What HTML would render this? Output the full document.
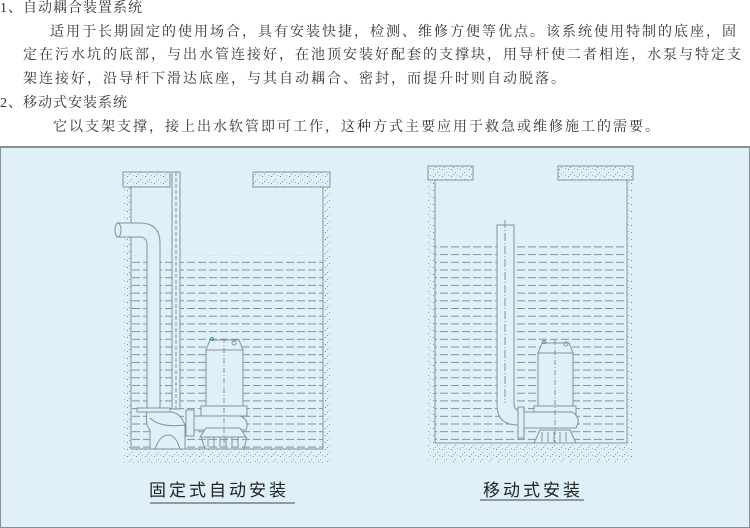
<!DOCTYPE html>
<html><head><meta charset="utf-8"><style>
body{margin:0;width:750px;height:528px;background:#fff;overflow:hidden;position:relative;font-family:"Liberation Serif","Noto Serif CJK SC",serif;color:#333;}
.t{position:absolute;font-size:14px;letter-spacing:2px;white-space:nowrap;line-height:16px;}
</style></head><body>
<div class="t" style="left:0;top:1px;letter-spacing:1px">1、自动耦合装置系统</div>
<div class="t" style="left:50px;top:25px">适用于长期固定的使用场合，具有安装快捷，检测、维修方便等优点。该系统使用特制的底座，固</div>
<div class="t" style="left:23px;top:48px">定在污水坑的底部，与出水管连接好，在池顶安装好配套的支撑块，用导杆使二者相连，水泵与特定支</div>
<div class="t" style="left:23px;top:72px">架连接好，沿导杆下滑达底座，与其自动耦合、密封，而提升时则自动脱落。</div>
<div class="t" style="left:0;top:96px;letter-spacing:1px">2、移动式安装系统</div>
<div class="t" style="left:53px;top:120px">它以支架支撑，接上出水软管即可工作，这种方式主要应用于救急或维修施工的需要。</div>
<svg style="position:absolute;left:0;top:0" width="750" height="528" viewBox="0 0 750 528">
<defs>
<pattern id="d" width="9" height="7" patternUnits="userSpaceOnUse">
<rect x="1" y="1" width="1" height="1" fill="#7d8a92"/><rect x="5" y="4" width="1" height="1" fill="#98a2a8"/><rect x="7" y="0" width="1" height="1" fill="#a8b2b8"/><rect x="3" y="6" width="1" height="1" fill="#8e9aa0"/>
</pattern>
<pattern id="w" width="11" height="7.7" patternUnits="userSpaceOnUse">
<line x1="0" y1="0.5" x2="8" y2="0.5" stroke="#84929b" stroke-width="1"/>
</pattern>
</defs>
<rect x="0.5" y="147" width="749" height="380.5" fill="#dff0f9" stroke="#8a8f93" stroke-width="1"/>
<line x1="0" y1="147" x2="750" y2="147" stroke="#8a8f93" stroke-width="2"/>
<g stroke="#84929b" stroke-width="1" fill="none">
<path d="M123 172 V463 H330 V172 H323 V449 H131 V187 H123Z" fill="url(#d)" stroke="none"/>
<rect x="123" y="172" width="47" height="15" fill="url(#d)"/>
<rect x="253" y="172" width="77" height="15" fill="url(#d)"/>
<path d="M131 187 V449 H323 V187"/>
<rect x="131" y="255" width="192" height="194" fill="url(#w)" stroke="none"/>
<rect x="172" y="172" width="8" height="237" fill="#dff0f9"/>
<line x1="176" y1="172" x2="176" y2="409" stroke-dasharray="4 2"/>
<path d="M117 223 H140 Q160 223 160 243 V408 H147 V245 Q147 237 140 237 H117 Z" fill="#dff0f9"/>
<ellipse cx="118" cy="230" rx="3" ry="7" fill="#dff0f9"/>
<rect x="137" y="408" width="33" height="4" fill="#dff0f9"/>
<path d="M147 412 Q145 425 150 430 V449 H185 V425 Q180 412 170 412 Z" fill="#dff0f9"/>
<path d="M155 449 Q160 435 168 435 Q176 435 180 449"/>
<path d="M150 418 Q160 428 185 425"/>
<rect x="186" y="410" width="8" height="26" fill="#dff0f9"/>
<path d="M194 416 H240 Q250 420 246 430 H194 Z" fill="#dff0f9"/>
<path d="M200 437 L206 428 H240 L246 437 Z" fill="#dff0f9"/>
<path d="M201 437 L205 449 H244 L247 437"/>
<path d="M208 437 V447 M214 437 V447 M220 437 V447 M226 437 V447 M232 437 V447 M238 437 V447"/>
<rect x="206" y="350" width="37" height="58" fill="#dff0f9"/>
<rect x="201" y="406" width="46" height="10" fill="#dff0f9"/>
<path d="M206 350 L210 340 H239 L243 350 Z" fill="#dff0f9"/>
<line x1="224" y1="338" x2="224" y2="449" stroke-dasharray="5 2 1 2"/>
<circle cx="234" cy="343" r="2"/><circle cx="212" cy="339" r="1.5" stroke="#3a9a7a"/>
<path d="M428 166 V462 H633 V166 H627 V443 H435 V180 H428Z" fill="url(#d)" stroke="none"/>
<rect x="428" y="166" width="45" height="14" fill="url(#d)"/>
<rect x="558" y="166" width="75" height="14" fill="url(#d)"/>
<path d="M435 180 V443 H627 V180"/>
<rect x="435" y="244" width="192" height="199" fill="url(#w)" stroke="none"/>
<path d="M497 225 H514 V403 Q514 410 518 410 V425 Q497 425 497 405 Z" fill="#dff0f9"/>
<line x1="505" y1="220" x2="505" y2="403" stroke-dasharray="8 2 1 2"/>
<rect x="518" y="407" width="6" height="31" fill="#dff0f9"/>
<rect x="538" y="353" width="35" height="55" fill="#dff0f9"/>
<path d="M538 353 L542 343 H569 L573 353 Z" fill="#dff0f9"/>
<rect x="534" y="406" width="42" height="8" fill="#dff0f9"/>
<path d="M524 412 H572 Q582 418 576 428 H524 Z" fill="#dff0f9"/>
<path d="M534 443 L540 430 H570 L576 443 Z" fill="#dff0f9"/>
<path d="M542 432 V442 M548 432 V442 M554 432 V442 M560 432 V442 M566 432 V442"/>
<line x1="555" y1="340" x2="555" y2="443" stroke-dasharray="5 2 1 2"/>
<circle cx="566" cy="344" r="2"/><circle cx="544" cy="342" r="1.5" stroke="#3a9a7a"/>
</g>
<text x="219" y="496" text-anchor="middle" font-size="17" letter-spacing="3" fill="#222" font-family="Liberation Sans,Noto Sans CJK SC,sans-serif">固定式自动安装</text>
<line x1="150" y1="503" x2="295" y2="503" stroke="#444" stroke-width="1"/>
<text x="533" y="496" text-anchor="middle" font-size="17" letter-spacing="3" fill="#222" font-family="Liberation Sans,Noto Sans CJK SC,sans-serif">移动式安装</text>
<line x1="480" y1="500" x2="584" y2="500" stroke="#444" stroke-width="1"/>
</svg>
</body></html>
